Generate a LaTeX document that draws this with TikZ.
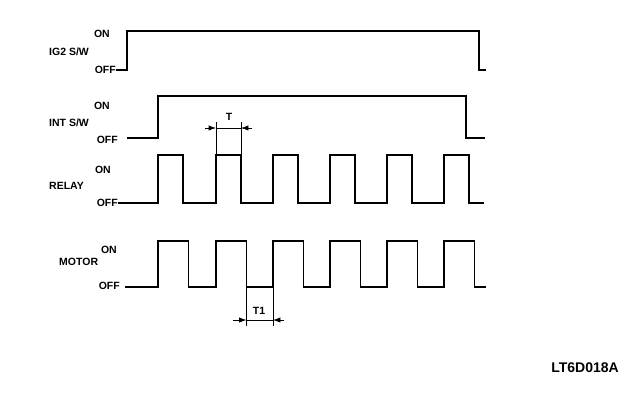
\documentclass[tikz,border=0pt]{standalone}
\usepackage{fontspec}
\setmainfont{Liberation Sans}
\usepackage{tikz}
\usetikzlibrary{arrows.meta,positioning}
\tikzset{
    every picture/.style={line cap=butt,line join=miter},
    wave/.style={draw=black,line width=1.9pt},
    signame/.style={font=\fontsize{10.5}{12}\selectfont\bfseries,anchor=west,inner sep=0pt},
    lvl/.style={font=\fontsize{10.5}{12}\selectfont\bfseries,anchor=east,inner sep=0pt},
    extline/.style={draw=black,line width=0.8pt},
    dimline/.style={draw=black,line width=0.8pt},
    dimarrow/.style={-{Latex[length=2.6mm,width=1.9mm]},draw=black,line width=0.8pt},
    dimtext/.style={font=\fontsize{10.5}{12}\selectfont\bfseries,inner sep=0pt}
}

\begin{document}
\begin{tikzpicture}[x=1pt,y=-1pt]
  \useasboundingbox (0,0) rectangle (640,400);

  % IG2 S/W
  \node[signame] (ig2) at (49,52) {IG2 S/W};
  \node[lvl] (ig2on) at (110,34) {ON};
  \node[lvl] (ig2off) at (116,70) {OFF};
  \draw[wave] (ig2off.east) -- (127,70) -- (127,31) -- (479,31) -- (479,70) -- (486,70);

  % INT S/W
  \node[signame] (int) at (49,123) {INT S/W};
  \node[lvl] (inton) at (110,106) {ON};
  \node[lvl] (intoff) at (118,140) {OFF};
  \draw[wave] (127,138) -- (158,138) -- (158,96) -- (466,96) -- (466,138) -- (485,138);

  % RELAY
  \node[signame] (relay) at (49,185.5) {RELAY};
  \node[lvl] (relayon) at (111,169.5) {ON};
  \node[lvl] (relayoff) at (118,203) {OFF};
  \draw[wave] (relayoff.east) foreach \r in {158,216,273,330,387,444} {
      -- (\r,203) -- (\r,155) -- (\r+25,155) -- (\r+25,203) } -- (484,203);

  % MOTOR
  \node[signame] (motor) at (59,262) {MOTOR};
  \node[lvl] (motoron) at (117,250) {ON};
  \node[lvl] (motoroff) at (120,286) {OFF};
  \draw[wave] (125,287) foreach \r in {158,216,273,330,387,444} {
      -- (\r,287) -- (\r,241) -- (\r+30.5,241) -- (\r+30.5,287) } -- (486,287);

  % T (relay on time)
  \coordinate (tL) at (216,128);
  \coordinate (tR) at (241,128);
  \draw[extline] (216,122) -- (216,155);
  \draw[extline] (241,122) -- (241,155);
  \draw[dimline] (tL) -- (tR);
  \draw[dimarrow] (205,128) -- (tL);
  \draw[dimarrow] (252,128) -- (tR);
  \node[dimtext] (tlbl) at (229,117) {T};

  % T1 (motor off time)
  \coordinate (t1L) at (246.5,320);
  \coordinate (t1R) at (273,320);
  \draw[extline] (246.5,287) -- (246.5,326);
  \draw[extline] (273,287) -- (273,326);
  \draw[dimline] (t1L) -- (t1R);
  \draw[dimarrow] (233,320) -- (t1L);
  \draw[dimarrow] (284,320) -- (t1R);
  \node[dimtext] (t1lbl) at (259,311) {T1};

  \node[font=\fontsize{14}{16}\selectfont\bfseries,inner sep=0pt] (code) at (585,368) {LT6D018A};
\end{tikzpicture}
\end{document}
